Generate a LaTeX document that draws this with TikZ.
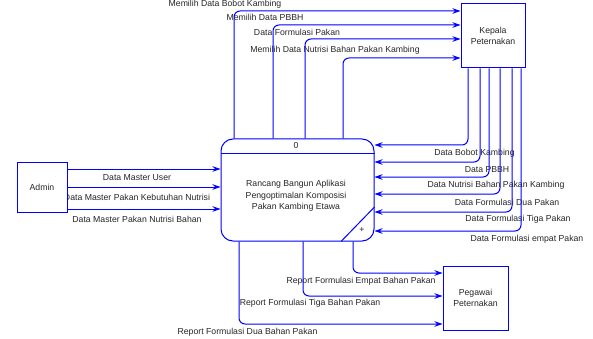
\documentclass[tikz,border=0pt]{standalone}
\usepackage{fontspec}
\setmainfont{Liberation Sans}
\usetikzlibrary{arrows.meta}
\begin{document}
\begin{tikzpicture}[x=1pt,y=-1pt,
  font=\fontsize{8.7}{10}\selectfont,
  every node/.style={text=black!85},
  box/.style={draw=blue,line width=1pt,fill=white,inner sep=0pt,align=center},
  flow/.style={draw=blue,line width=1pt,rounded corners=6pt,-{Stealth[length=8pt,width=5.5pt]}},
  lbl/.style={inner sep=0pt,anchor=center}]
\useasboundingbox (0,0) rectangle (593,339);
% labels
\node[lbl] at (225,4) {Memilih Data Bobot Kambing};
\node[lbl] at (265,17) {Memilih Data PBBH};
\node[lbl] at (297,32) {Data Formulasi Pakan};
\node[lbl] at (335,50) {Memilih Data Nutrisi Bahan Pakan Kambing};
\node[lbl] at (474.5,153) {Data Bobot Kambing};
\node[lbl] at (487,170) {Data PBBH};
\node[lbl] at (496,185) {Data Nutrisi Bahan Pakan Kambing};
\node[lbl] at (507,202) {Data Formulasi Dua Pakan};
\node[lbl] at (518,219) {Data Formulasi Tiga Pakan};
\node[lbl] at (527,239) {Data Formulasi empat Pakan};
\node[lbl] at (137,178) {Data Master User};
\node[lbl] at (137,197) {Data Master Pakan Kebutuhan Nutrisi};
\node[lbl] at (137,219) {Data Master Pakan Nutrisi Bahan};
\node[lbl] at (361,281) {Report Formulasi Empat Bahan Pakan};
\node[lbl] at (310,303) {Report Formulasi Tiga Bahan Pakan};
\node[lbl] at (247.5,332) {Report Formulasi Dua Bahan Pakan};
% entities
\node[box,minimum width=50pt,minimum height=50pt] (admin) at (42,187) {Admin};
\node[box,minimum width=64pt,minimum height=64pt] (kepala) at (493,36) {Kepala\\[1pt]Peternakan};
\node[box,minimum width=65pt,minimum height=64pt] (pegawai) at (475.5,298) {Pegawai\\[1pt]Peternakan};
% process
\node[box,rounded corners=12pt,minimum width=153pt,minimum height=102pt] (proc) at (297.5,190) {};
\node[lbl] (procnum) at (296,146) {0};
\node[lbl,align=center] (proctext) at (296,196) {Rancang Bangun Aplikasi\\[1.5pt]Pengoptimalan Komposisi\\[1.5pt]Pakan Kambing Etawa};
\node[lbl] (plus) at (362,230) {+};
\draw[blue,line width=1pt] (proc.west |- 0,153) -- (proc.east |- 0,153);
\draw[blue,line width=1pt] (proc.south -| 341,0) -- (proc.east |- 0,207);
% flows process -> kepala
\draw[flow] (proc.north -| 234,0) |- (kepala.west |- 0,11);
\draw[flow] (proc.north -| 273,0) |- (kepala.west |- 0,25);
\draw[flow] (proc.north -| 305,0) |- (kepala.west |- 0,39);
\draw[flow] (proc.north -| 343,0) |- (kepala.west |- 0,58);
% flows kepala -> process
\draw[flow] (kepala.south -| 468,0) |- (proc.east |- 0,145);
\draw[flow] (kepala.south -| 480,0) |- (proc.east |- 0,162);
\draw[flow] (kepala.south -| 489,0) |- (proc.east |- 0,177);
\draw[flow] (kepala.south -| 500,0) |- (proc.east |- 0,194);
\draw[flow] (kepala.south -| 512,0) |- (proc.east |- 0,212);
\draw[flow] (kepala.south -| 521,0) |- (proc.east |- 0,231);
% admin -> process
\draw[flow] (admin.east |- 0,169) -- (proc.west |- 0,169);
\draw[flow] (admin.east |- 0,187) -- (proc.west |- 0,187);
\draw[flow] (admin.east |- 0,209) -- (proc.west |- 0,209);
% process -> pegawai
\draw[flow] (proc.south -| 353,0) |- (pegawai.west |- 0,273);
\draw[flow] (proc.south -| 303,0) |- (pegawai.west |- 0,296);
\draw[flow] (proc.south -| 239,0) |- (pegawai.west |- 0,324);
\end{tikzpicture}
\end{document}
